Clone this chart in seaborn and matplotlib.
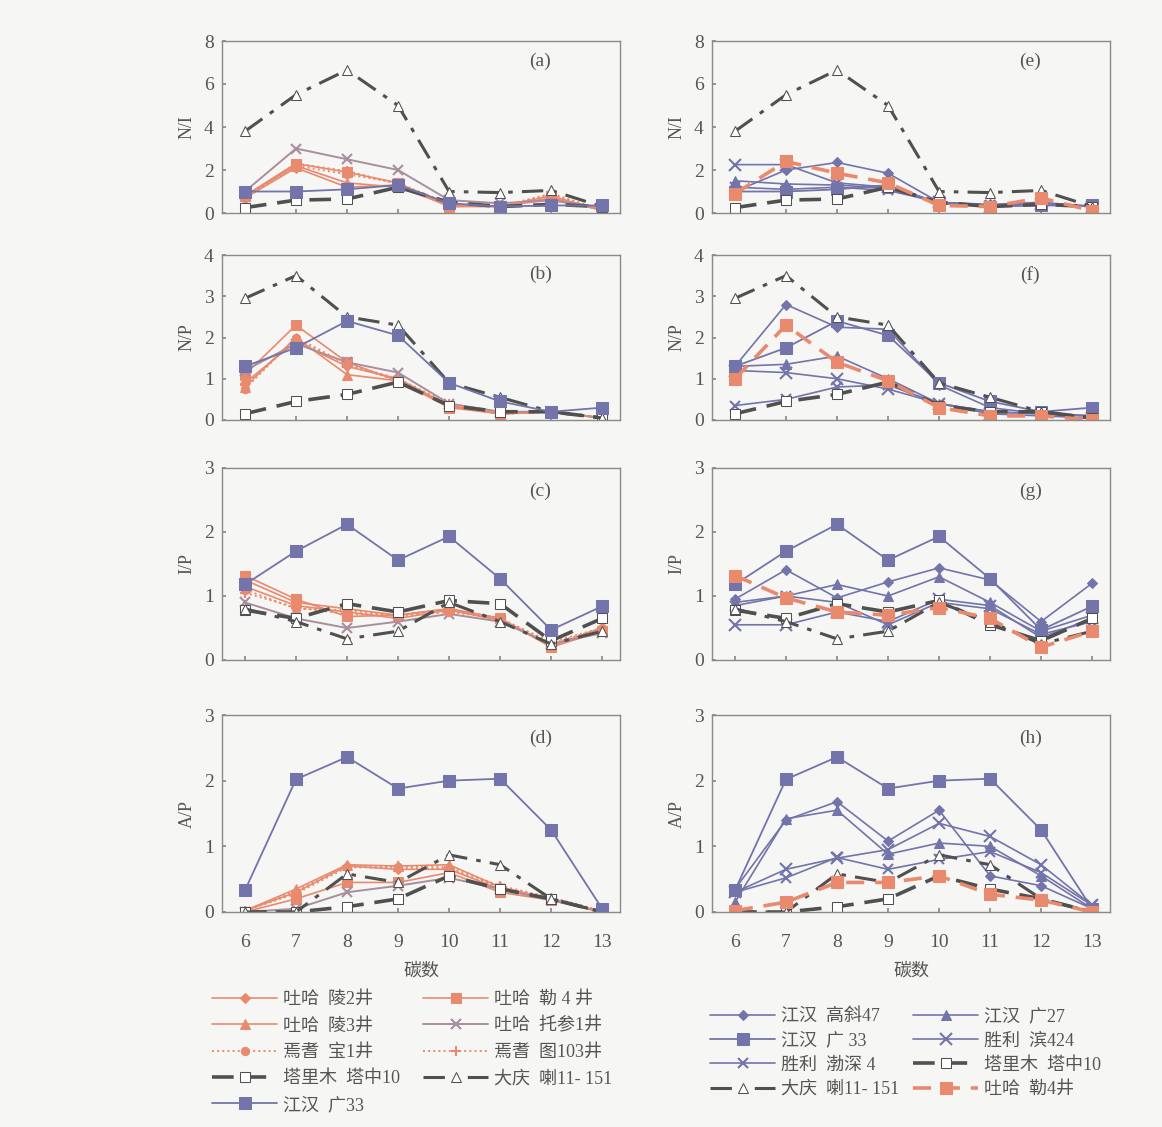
import matplotlib
matplotlib.use("Agg")
import matplotlib.pyplot as plt
import seaborn as sns

# ── 数据 ─────────────────────────────────────────────────────────────────────
carbon = [6, 7, 8, 9, 10, 11, 12, 13]

# N/I
NI_ling2  = [0.70, 2.10, 1.20, 1.30, 0.30, 0.35, 0.60, 0.15]
NI_le4    = [0.80, 2.30, 1.90, 1.40, 0.30, 0.30, 0.80, 0.10]
NI_ling3  = [0.80, 2.20, 1.40, 1.20, 0.35, 0.30, 0.70, 0.15]
NI_tuocan = [1.00, 3.00, 2.50, 2.00, 0.60, 0.45, 0.60, 0.25]
NI_bao1   = [0.70, 2.20, 1.80, 1.40, 0.40, 0.30, 0.90, 0.15]
NI_tu103  = [0.75, 2.30, 1.95, 1.35, 0.45, 0.30, 0.85, 0.15]
NI_tz10   = [0.25, 0.60, 0.65, 1.20, 0.50, 0.30, 0.40, 0.30]
NI_daqing = [3.80, 5.50, 6.65, 5.00, 1.00, 0.95, 1.05, 0.30]
NI_g33    = [1.00, 1.00, 1.10, 1.30, 0.45, 0.30, 0.35, 0.35]
NI_gx47   = [1.00, 2.00, 2.35, 1.85, 0.50, 0.40, 0.50, 0.30]
NI_g27    = [1.50, 1.35, 1.30, 1.15, 0.45, 0.35, 0.40, 0.30]
NI_bin424 = [2.25, 2.25, 1.40, 1.20, 0.50, 0.30, 0.40, 0.30]
NI_bs4    = [1.20, 1.10, 1.20, 1.05, 0.50, 0.35, 0.40, 0.30]
NI_le4r   = [0.90, 2.40, 1.85, 1.40, 0.35, 0.30, 0.70, 0.10]

# N/P
NP_ling2  = [0.90, 1.90, 1.30, 1.00, 0.35, 0.15, 0.20, 0.05]
NP_le4    = [1.10, 2.30, 1.40, 0.95, 0.30, 0.15, 0.20, 0.05]
NP_ling3  = [0.80, 2.00, 1.10, 0.95, 0.35, 0.15, 0.20, 0.05]
NP_tuocan = [1.20, 1.85, 1.40, 1.15, 0.40, 0.20, 0.20, 0.05]
NP_bao1   = [0.75, 2.00, 1.35, 0.95, 0.35, 0.15, 0.20, 0.05]
NP_tu103  = [0.85, 1.95, 1.35, 1.00, 0.40, 0.15, 0.20, 0.05]
NP_tz10   = [0.15, 0.45, 0.62, 0.92, 0.35, 0.20, 0.20, 0.05]
NP_daqing = [2.95, 3.50, 2.50, 2.30, 0.90, 0.55, 0.20, 0.05]
NP_g33    = [1.30, 1.75, 2.40, 2.05, 0.90, 0.45, 0.20, 0.30]
NP_gx47   = [1.30, 2.80, 2.25, 2.20, 0.85, 0.30, 0.15, 0.10]
NP_g27    = [1.30, 1.35, 1.55, 1.00, 0.40, 0.20, 0.15, 0.10]
NP_bin424 = [1.20, 1.15, 1.00, 0.75, 0.40, 0.15, 0.10, 0.05]
NP_bs4    = [0.35, 0.50, 0.80, 0.85, 0.40, 0.20, 0.15, 0.10]
NP_le4r   = [1.00, 2.30, 1.40, 0.95, 0.30, 0.10, 0.10, 0.00]

# I/P
IP_ling2  = [1.15, 0.85, 0.75, 0.65, 0.78, 0.62, 0.25, 0.45]
IP_le4    = [1.32, 0.95, 0.68, 0.70, 0.80, 0.65, 0.20, 0.45]
IP_ling3  = [1.25, 0.90, 0.80, 0.70, 0.80, 0.65, 0.22, 0.50]
IP_tuocan = [0.90, 0.65, 0.50, 0.60, 0.72, 0.60, 0.25, 0.42]
IP_bao1   = [1.10, 0.80, 0.78, 0.68, 0.75, 0.65, 0.25, 0.50]
IP_tu103  = [1.05, 0.82, 0.72, 0.70, 0.80, 0.65, 0.28, 0.50]
IP_tz10   = [0.78, 0.65, 0.88, 0.75, 0.93, 0.88, 0.30, 0.65]
IP_daqing = [0.80, 0.60, 0.33, 0.45, 0.90, 0.60, 0.25, 0.45]
IP_g33    = [1.18, 1.70, 2.12, 1.56, 1.93, 1.27, 0.47, 0.84]
IP_gx47   = [0.95, 1.41, 0.97, 1.22, 1.44, 1.25, 0.60, 1.20]
IP_g27    = [0.90, 1.00, 1.18, 1.00, 1.30, 0.90, 0.45, 0.70]
IP_bin424 = [0.55, 0.55, 0.75, 0.60, 0.95, 0.85, 0.35, 0.65]
IP_bs4    = [0.85, 1.00, 0.90, 0.55, 0.90, 0.80, 0.40, 0.60]
IP_tz10r  = [0.78, 0.65, 0.88, 0.75, 0.93, 0.55, 0.30, 0.65]
IP_le4r   = [1.32, 0.97, 0.75, 0.70, 0.82, 0.65, 0.20, 0.45]

# A/P
AP_ling2  = [0.02, 0.30, 0.70, 0.65, 0.65, 0.35, 0.20, 0.00]
AP_le4    = [0.00, 0.20, 0.45, 0.45, 0.60, 0.30, 0.18, 0.00]
AP_ling3  = [0.02, 0.35, 0.72, 0.70, 0.72, 0.38, 0.20, 0.00]
AP_tuocan = [0.00, 0.05, 0.30, 0.40, 0.52, 0.35, 0.18, 0.00]
AP_bao1   = [0.02, 0.28, 0.68, 0.68, 0.65, 0.38, 0.20, 0.00]
AP_tu103  = [0.02, 0.32, 0.70, 0.70, 0.68, 0.40, 0.22, 0.02]
AP_tz10   = [0.00, 0.00, 0.08, 0.20, 0.55, 0.35, 0.20, 0.00]
AP_daqing = [0.00, 0.00, 0.58, 0.45, 0.87, 0.72, 0.20, 0.00]
AP_g33    = [0.33, 2.02, 2.36, 1.88, 2.00, 2.03, 1.25, 0.05]
AP_gx47   = [0.35, 1.40, 1.68, 1.08, 1.55, 0.55, 0.40, 0.05]
AP_g27    = [0.15, 1.42, 1.55, 0.88, 1.05, 1.00, 0.55, 0.05]
AP_bin424 = [0.30, 0.65, 0.82, 0.95, 1.35, 1.15, 0.72, 0.10]
AP_bs4    = [0.30, 0.52, 0.83, 0.65, 0.80, 0.92, 0.60, 0.10]
AP_le4r   = [0.02, 0.15, 0.45, 0.45, 0.55, 0.27, 0.18, 0.00]

# ── 样式 ─────────────────────────────────────────────────────────────────────
ORANGE = "#e98a6e"
PURPLE = "#7274aa"
MAUVE  = "#a98e9e"
GREY   = "#505050"
BG     = "#f6f6f4"

sns.set_theme(style="ticks")
plt.rcParams["font.family"] = ["Liberation Serif", "Noto Sans CJK SC"]
plt.rcParams["axes.unicode_minus"] = False

sty = {
    "吐哈  陵2井":      dict(color=ORANGE, marker="D", ms=5, ls="-", lw=1.2),
    "吐哈  勒 4 井":    dict(color=ORANGE, marker="s", ms=7, ls="-", lw=1.2),
    "吐哈  陵3井":      dict(color=ORANGE, marker="^", ms=7, ls="-", lw=1.2),
    "吐哈  托参1井":    dict(color=MAUVE, marker="x", ms=7, ls="-", lw=1.4, mew=1.5),
    "焉耆  宝1井":      dict(color=ORANGE, marker="o", ms=6, ls=":", lw=1.4),
    "焉耆  图103井":    dict(color=ORANGE, marker="+", ms=7, ls=":", lw=1.4, mew=1.5),
    "塔里木  塔中10":   dict(color=GREY, marker="s", ms=7, mfc="white", ls=(0, (6, 3)), lw=2.6),
    "大庆  喇11- 151":  dict(color=GREY, marker="^", ms=7, mfc="white", ls=(0, (7, 3, 1.5, 3)), lw=2.2),
    "江汉  广33":       dict(color=PURPLE, marker="s", ms=8, ls="-", lw=1.3),
    "江汉  高斜47":     dict(color=PURPLE, marker="D", ms=5, ls="-", lw=1.2),
    "江汉  广27":       dict(color=PURPLE, marker="^", ms=7, ls="-", lw=1.2),
    "江汉  广 33":      dict(color=PURPLE, marker="s", ms=8, ls="-", lw=1.3),
    "胜利  滨424":      dict(color=PURPLE, marker="x", ms=8, ls="-", lw=1.2, mew=1.5),
    "胜利  渤深 4":     dict(color=PURPLE, marker="x", ms=7, ls="-", lw=1.2, mew=1.5),
    "吐哈  勒4井":      dict(color=ORANGE, marker="s", ms=8, ls=(0, (5, 3)), lw=2.6),
}

left_names = ["吐哈  陵2井", "吐哈  陵3井", "焉耆  宝1井", "塔里木  塔中10", "江汉  广33",
              "吐哈  勒 4 井", "吐哈  托参1井", "焉耆  图103井", "大庆  喇11- 151"]
right_names = ["江汉  高斜47", "江汉  广 33", "胜利  渤深 4", "大庆  喇11- 151",
               "江汉  广27", "胜利  滨424", "塔里木  塔中10", "吐哈  勒4井"]

left_panels = [
    ("(a)", "N/I", 8, [0, 2, 4, 6, 8], {
        "吐哈  陵2井": NI_ling2, "吐哈  勒 4 井": NI_le4, "吐哈  陵3井": NI_ling3,
        "吐哈  托参1井": NI_tuocan, "焉耆  宝1井": NI_bao1, "焉耆  图103井": NI_tu103,
        "塔里木  塔中10": NI_tz10, "大庆  喇11- 151": NI_daqing, "江汉  广33": NI_g33}),
    ("(b)", "N/P", 4, [0, 1, 2, 3, 4], {
        "吐哈  陵2井": NP_ling2, "吐哈  勒 4 井": NP_le4, "吐哈  陵3井": NP_ling3,
        "吐哈  托参1井": NP_tuocan, "焉耆  宝1井": NP_bao1, "焉耆  图103井": NP_tu103,
        "塔里木  塔中10": NP_tz10, "大庆  喇11- 151": NP_daqing, "江汉  广33": NP_g33}),
    ("(c)", "I/P", 3, [0, 1, 2, 3], {
        "吐哈  陵2井": IP_ling2, "吐哈  勒 4 井": IP_le4, "吐哈  陵3井": IP_ling3,
        "吐哈  托参1井": IP_tuocan, "焉耆  宝1井": IP_bao1, "焉耆  图103井": IP_tu103,
        "塔里木  塔中10": IP_tz10, "大庆  喇11- 151": IP_daqing, "江汉  广33": IP_g33}),
    ("(d)", "A/P", 3, [0, 1, 2, 3], {
        "吐哈  陵2井": AP_ling2, "吐哈  勒 4 井": AP_le4, "吐哈  陵3井": AP_ling3,
        "吐哈  托参1井": AP_tuocan, "焉耆  宝1井": AP_bao1, "焉耆  图103井": AP_tu103,
        "塔里木  塔中10": AP_tz10, "大庆  喇11- 151": AP_daqing, "江汉  广33": AP_g33}),
]
right_panels = [
    ("(e)", "N/I", 8, [0, 2, 4, 6, 8], {
        "江汉  高斜47": NI_gx47, "江汉  广27": NI_g27, "江汉  广 33": NI_g33,
        "胜利  滨424": NI_bin424, "胜利  渤深 4": NI_bs4, "塔里木  塔中10": NI_tz10,
        "大庆  喇11- 151": NI_daqing, "吐哈  勒4井": NI_le4r}),
    ("(f)", "N/P", 4, [0, 1, 2, 3, 4], {
        "江汉  高斜47": NP_gx47, "江汉  广27": NP_g27, "江汉  广 33": NP_g33,
        "胜利  滨424": NP_bin424, "胜利  渤深 4": NP_bs4, "塔里木  塔中10": NP_tz10,
        "大庆  喇11- 151": NP_daqing, "吐哈  勒4井": NP_le4r}),
    ("(g)", "I/P", 3, [0, 1, 2, 3], {
        "江汉  高斜47": IP_gx47, "江汉  广27": IP_g27, "江汉  广 33": IP_g33,
        "胜利  滨424": IP_bin424, "胜利  渤深 4": IP_bs4, "塔里木  塔中10": IP_tz10r,
        "大庆  喇11- 151": IP_daqing, "吐哈  勒4井": IP_le4r}),
    ("(h)", "A/P", 3, [0, 1, 2, 3], {
        "江汉  高斜47": AP_gx47, "江汉  广27": AP_g27, "江汉  广 33": AP_g33,
        "胜利  滨424": AP_bin424, "胜利  渤深 4": AP_bs4, "塔里木  塔中10": AP_tz10,
        "大庆  喇11- 151": AP_daqing, "吐哈  勒4井": AP_le4r}),
]

# ── 画布 ─────────────────────────────────────────────────────────────────────
W, H = 1162, 1127
fig = plt.figure(figsize=(W / 100, H / 100), dpi=100, facecolor=BG)

rows_px = [(41, 213), (255, 420), (468, 660), (715, 912)]
cols_px = [(222, 620), (712, 1110)]


def draw_panel(ax, tag, ylab, ymax, yticks, series, last):
    ax.set_facecolor(BG)
    for name, vals in series.items():
        s = dict(sty[name])
        sns.lineplot(x=carbon, y=vals, ax=ax, label=name, legend=False,
                     sort=False, errorbar=None, mec=s["color"], **s)
    ax.set_xlim(5.55, 13.35)
    ax.set_ylim(0, ymax)
    ax.set_yticks(yticks)
    ax.set_xticks(carbon)
    ax.tick_params(direction="in", length=3, colors="#8a8a8a", labelcolor="#555555",
                   labelsize=14, pad=6)
    if last:
        ax.tick_params(axis="x", pad=16)
        ax.set_xlabel("碳数", fontsize=13, color="#555555", labelpad=8)
    else:
        ax.tick_params(axis="x", labelbottom=False)
        ax.set_xlabel("")
    ax.set_ylabel(ylab, fontsize=13, color="#555555", labelpad=6)
    for sp in ax.spines.values():
        sp.set_color("#8a8a8a")
        sp.set_linewidth(1.0)
    ax.text(0.80, 0.88, tag, transform=ax.transAxes, fontsize=14,
            color="#555555", ha="center", va="center")


axes_cols = []
for (x0, x1), panels in zip(cols_px, [left_panels, right_panels]):
    col_axes = []
    for i, ((y0, y1), p) in enumerate(zip(rows_px, panels)):
        ax = fig.add_axes([x0 / W, 1 - y1 / H, (x1 - x0) / W, (y1 - y0) / H])
        draw_panel(ax, *p, last=(i == 3))
        col_axes.append(ax)
    axes_cols.append(col_axes)

# ── 图例 ─────────────────────────────────────────────────────────────────────
legend_specs = [
    (axes_cols[0], left_names, (196 / W, 1 - 975 / H), 0.52, 1.3),
    (axes_cols[1], right_names, (694 / W, 1 - 992 / H), 0.40, 0.8),
]
for col_axes, names, anchor, lsp, csp in legend_specs:
    h, l = col_axes[0].get_legend_handles_labels()
    lookup = dict(zip(l, h))
    fig.legend([lookup[n] for n in names], names, loc="upper left",
               bbox_to_anchor=anchor, ncol=2, frameon=False, fontsize=13,
               handlelength=3.6, handletextpad=0.3, columnspacing=csp,
               labelspacing=lsp, labelcolor="#555555")

fig.savefig("out.png", dpi=100, facecolor=BG)
